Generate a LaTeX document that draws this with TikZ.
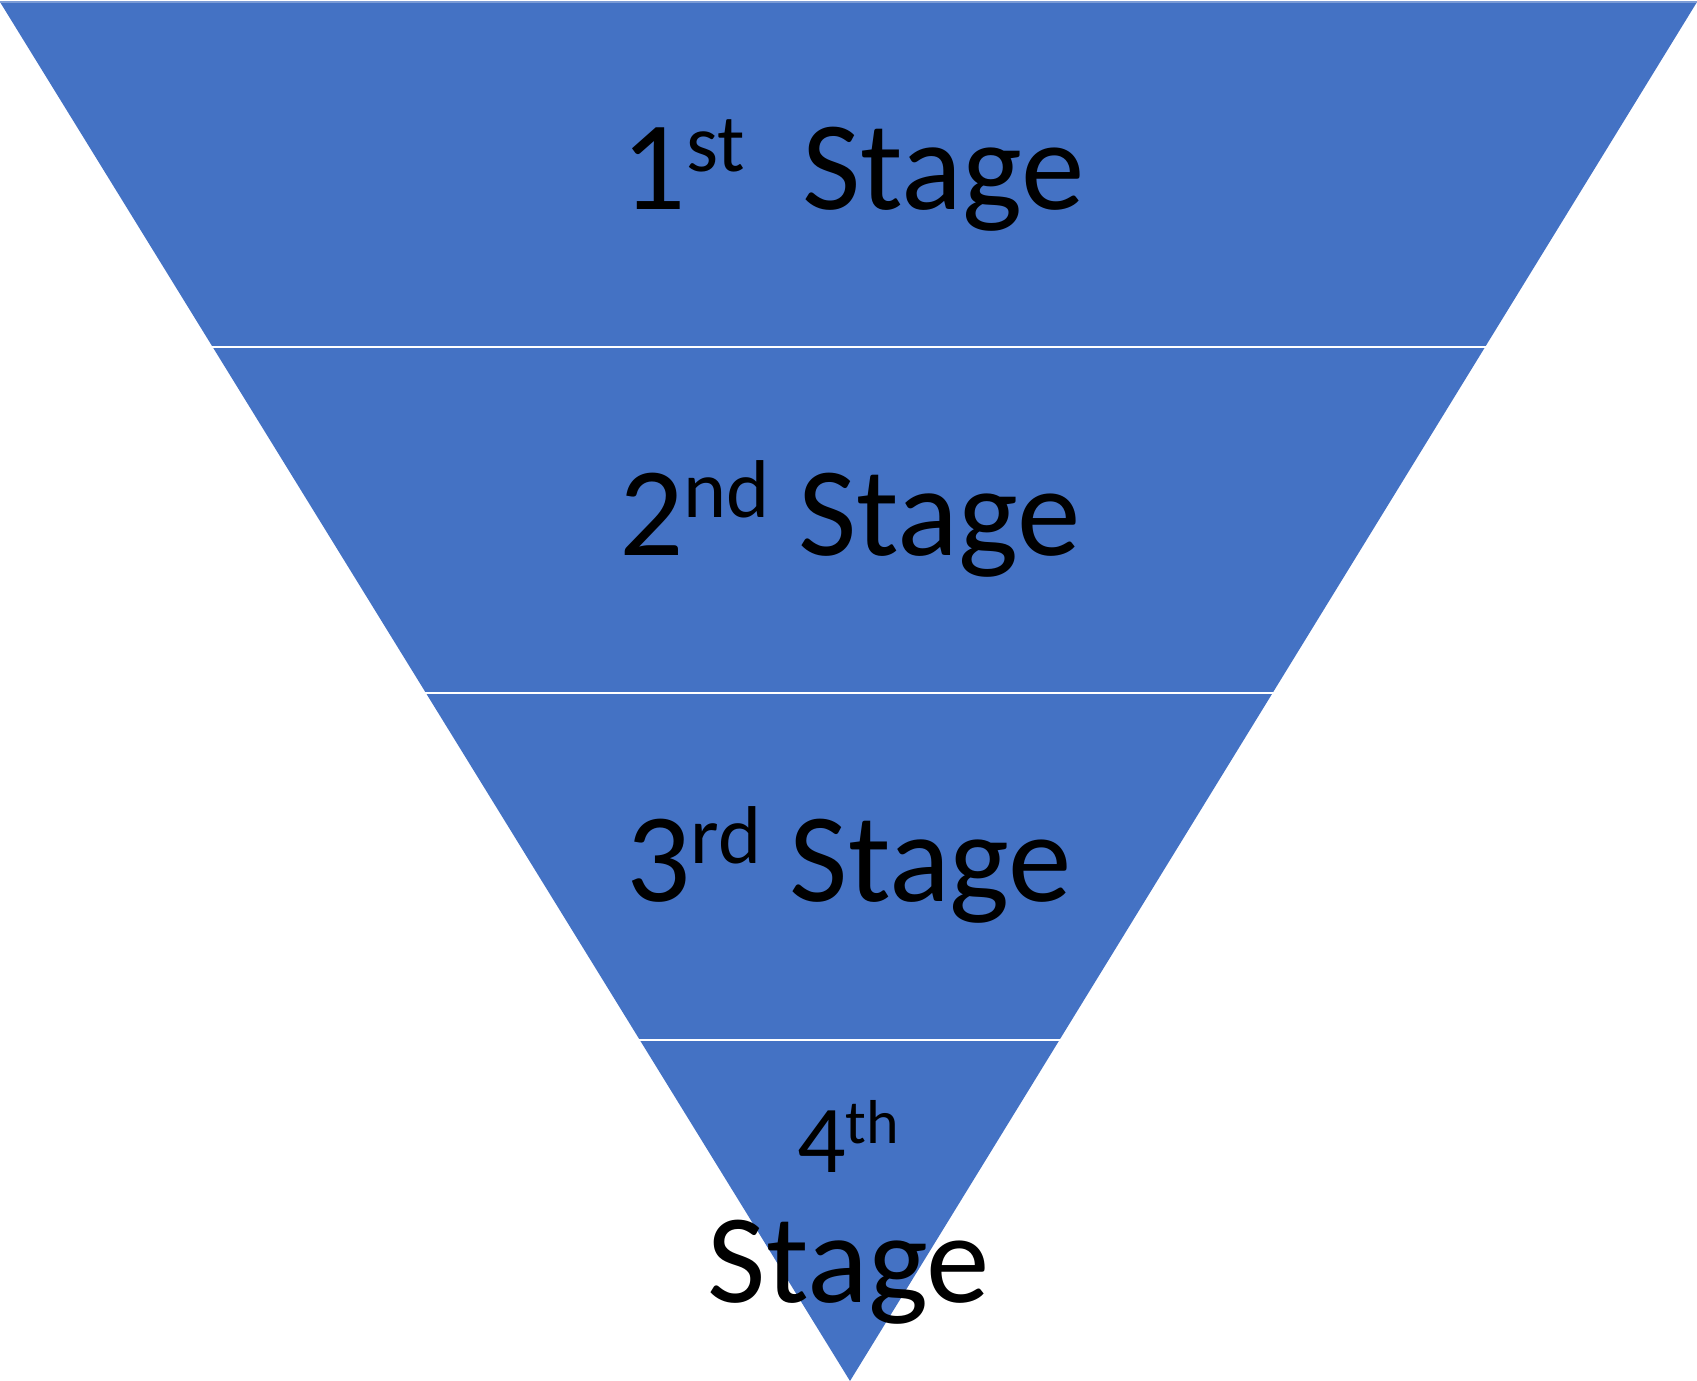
\documentclass[tikz,border=0pt]{standalone}
\usepackage{fontspec}
\setmainfont{Carlito}
\definecolor{funnelblue}{HTML}{4472C4}
\newcommand\stsup[1]{\raisebox{19pt}{\fontsize{41}{41}\selectfont #1}}
\newcommand\smsup[1]{\raisebox{14.5pt}{\fontsize{31}{31}\selectfont #1}}
\tikzset{
  label/.style={anchor=base, inner sep=0pt, font=\fontsize{63.5}{63.5}\selectfont, text=black},
  smalllabel/.style={anchor=base, inner sep=0pt, font=\fontsize{48}{48}\selectfont, text=black},
  gap/.style={draw=white, line width=1.4pt}
}
\begin{document}
\begin{tikzpicture}[x=0.5pt,y=-0.5pt]
\useasboundingbox (0,0) rectangle (1697,1381);
\fill[funnelblue] (0,2) coordinate (tl) -- (1697,2) coordinate (tr) -- (850,1381) coordinate (apex) -- cycle;
\draw[funnelblue!70!white, line width=0.6pt] (tl) -- (tr);
\coordinate (g1l) at (205,347); \coordinate (g1r) at (1495,347);
\coordinate (g2l) at (420,693); \coordinate (g2r) at (1280,693);
\coordinate (g3l) at (635,1040); \coordinate (g3r) at (1065,1040);
\draw[gap] (g1l) -- (g1r);
\draw[gap] (g2l) -- (g2r);
\draw[gap] (g3l) -- (g3r);
\node[label] (s1) at (853,209) {1\stsup{st}\ \ Stage};
\node[label] (s2) at (850,555) {2\stsup{nd}\ Stage};
\node[label] (s3) at (849,901) {3\stsup{rd}\ Stage};
\node[smalllabel] (s4a) at (848,1172) {4\smsup{th}};
\node[label] (s4b) at (849,1302) {Stage};
\end{tikzpicture}
\end{document}
